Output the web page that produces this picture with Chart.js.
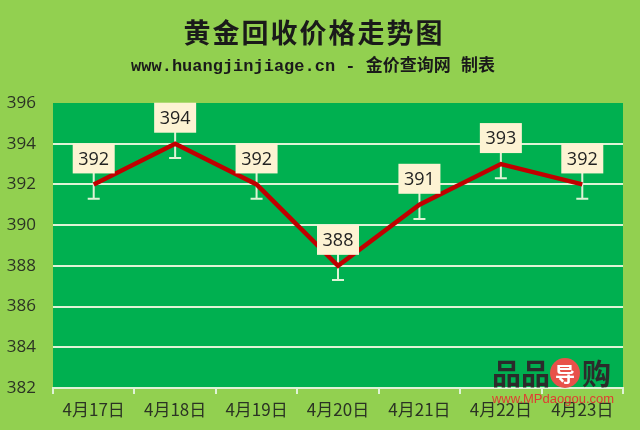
<!DOCTYPE html>
<html>
<head>
<meta charset="utf-8">
<script src="https://cdn.jsdelivr.net/npm/chart.js@4.4.1/dist/chart.umd.min.js"></script>
<style>
  html, body { margin: 0; padding: 0; background: #92d050; }
  #wrap { width: 640px; height: 430px; }
</style>
</head>
<body>
<div id="wrap"><canvas id="goldChart" width="640" height="430"></canvas></div>
<script>
"use strict";

// data
const categories = ["4月17日", "4月18日", "4月19日", "4月20日", "4月21日", "4月22日", "4月23日"];
const prices = [392, 394, 392, 388, 391, 393, 392];
const yTickValues = [382, 384, 386, 388, 390, 392, 394, 396];
const errorAmount = 0.7;

const titleText = "黄金回收价格走势图";
const subtitleText = "www.huangjinjiage.cn - 金价查询网 制表";

const gridColor = "#dff3d6";

// backgrounds: outer light green, plot area green
const backgroundPlugin = {
  id: "backgrounds",
  beforeDraw(chart) {
    const { ctx, chartArea } = chart;
    ctx.save();
    ctx.fillStyle = "#92d050";
    ctx.fillRect(0, 0, chart.width, chart.height);
    ctx.fillStyle = "#00b050";
    ctx.fillRect(chartArea.left, chartArea.top, chartArea.right - chartArea.left, chartArea.bottom - chartArea.top);
    ctx.restore();
  },
};

// small error bars under the line
const errorBarPlugin = {
  id: "errorBars",
  beforeDatasetsDraw(chart) {
    const { ctx } = chart;
    const yScale = chart.scales.y;
    const meta = chart.getDatasetMeta(0);
    ctx.save();
    ctx.strokeStyle = gridColor;
    ctx.lineWidth = 2;
    meta.data.forEach((pt, i) => {
      const top = yScale.getPixelForValue(prices[i] + errorAmount);
      const bottom = yScale.getPixelForValue(prices[i] - errorAmount);
      ctx.beginPath();
      ctx.moveTo(pt.x, top);
      ctx.lineTo(pt.x, bottom);
      ctx.moveTo(pt.x - 6, top);
      ctx.lineTo(pt.x + 6, top);
      ctx.moveTo(pt.x - 6, bottom);
      ctx.lineTo(pt.x + 6, bottom);
      ctx.stroke();
    });
    ctx.restore();
  },
};

// value labels in cream boxes above each point
const valueLabelPlugin = {
  id: "valueLabels",
  afterDatasetsDraw(chart) {
    const { ctx } = chart;
    const meta = chart.getDatasetMeta(0);
    ctx.save();
    ctx.font = "18px 'Open Sans', 'Noto Sans', sans-serif";
    ctx.textAlign = "center";
    ctx.textBaseline = "middle";
    meta.data.forEach((pt, i) => {
      const w = 42, h = 30;
      const boxBottom = pt.y - 11;
      ctx.fillStyle = "#fdf3d3";
      ctx.fillRect(pt.x - w / 2, boxBottom - h, w, h);
      ctx.fillStyle = "#222222";
      ctx.fillText(String(prices[i]), pt.x, boxBottom - h / 2 + 1);
    });
    ctx.restore();
  },
};

// titles and watermark
const titlePlugin = {
  id: "titles",
  afterDraw(chart) {
    const { ctx } = chart;
    ctx.save();
    ctx.textAlign = "center";
    ctx.textBaseline = "middle";
    ctx.fillStyle = "#1a1a1a";
    ctx.font = "bold 27px 'Noto Sans CJK SC', sans-serif";
    ctx.letterSpacing = "2px";
    ctx.fillText(titleText, 314, 33);
    ctx.letterSpacing = "0px";
    ctx.font = "bold 17px 'Liberation Mono', 'Noto Sans CJK SC', monospace";
    ctx.fillText(subtitleText, 313, 67);

    // watermark in the corner
    ctx.textAlign = "left";
    ctx.fillStyle = "#2b2b2b";
    ctx.font = "bold 29px 'Noto Sans CJK SC', sans-serif";
    ctx.fillText("品品", 492, 374);
    ctx.fillText("购", 582, 374);
    ctx.beginPath();
    ctx.arc(565, 373, 15, 0, Math.PI * 2);
    ctx.fillStyle = "#e8514a";
    ctx.fill();
    ctx.fillStyle = "#ffffff";
    ctx.font = "bold 20px 'Noto Sans CJK SC', sans-serif";
    ctx.textAlign = "center";
    ctx.fillText("导", 565, 374);
    ctx.fillStyle = "#e03c32";
    ctx.font = "13px 'Liberation Sans', sans-serif";
    ctx.fillText("www.MPdaogou.com", 553, 399);
    ctx.restore();
  },
};

const ctx = document.getElementById("goldChart").getContext("2d");

new Chart(ctx, {
  type: "line",
  data: {
    labels: categories,
    datasets: [
      {
        data: prices,
        borderColor: "#c00000",
        borderWidth: 4.5,
        pointRadius: 0,
        tension: 0,
      },
    ],
  },
  options: {
    responsive: false,
    animation: false,
    devicePixelRatio: 1,
    layout: { padding: { top: 103, left: 0, right: 17, bottom: 0 } },
    plugins: {
      legend: { display: false },
      tooltip: { enabled: false },
      title: { display: false },
    },
    scales: {
      x: {
        offset: true,
        afterFit(scale) { scale.height = 42; },
        grid: {
          offset: true,
          drawOnChartArea: false,
          drawTicks: true,
          tickLength: 6,
          color: gridColor,
          lineWidth: 2,
        },
        border: { display: true, color: gridColor, width: 2 },
        ticks: {
          color: "#2b3324",
          padding: 5,
          maxRotation: 0,
          font: { family: "'Noto Sans CJK SC', sans-serif", size: 17 },
        },
      },
      y: {
        min: 382,
        max: 396,
        afterFit(scale) { scale.width = 53; },
        afterBuildTicks(scale) { scale.ticks = yTickValues.map((v) => ({ value: v })); },
        grid: {
          drawTicks: false,
          lineWidth: 2,
          color: (c) => (c.tick && (c.tick.value === 396 || c.tick.value === 382) ? "rgba(0,0,0,0)" : gridColor),
        },
        border: { display: false },
        ticks: {
          color: "#2b3324",
          padding: 17,
          font: { family: "'Open Sans', 'Noto Sans', sans-serif", size: 17 },
        },
      },
    },
  },
  plugins: [backgroundPlugin, errorBarPlugin, valueLabelPlugin, titlePlugin],
});
</script>
</body>
</html>
